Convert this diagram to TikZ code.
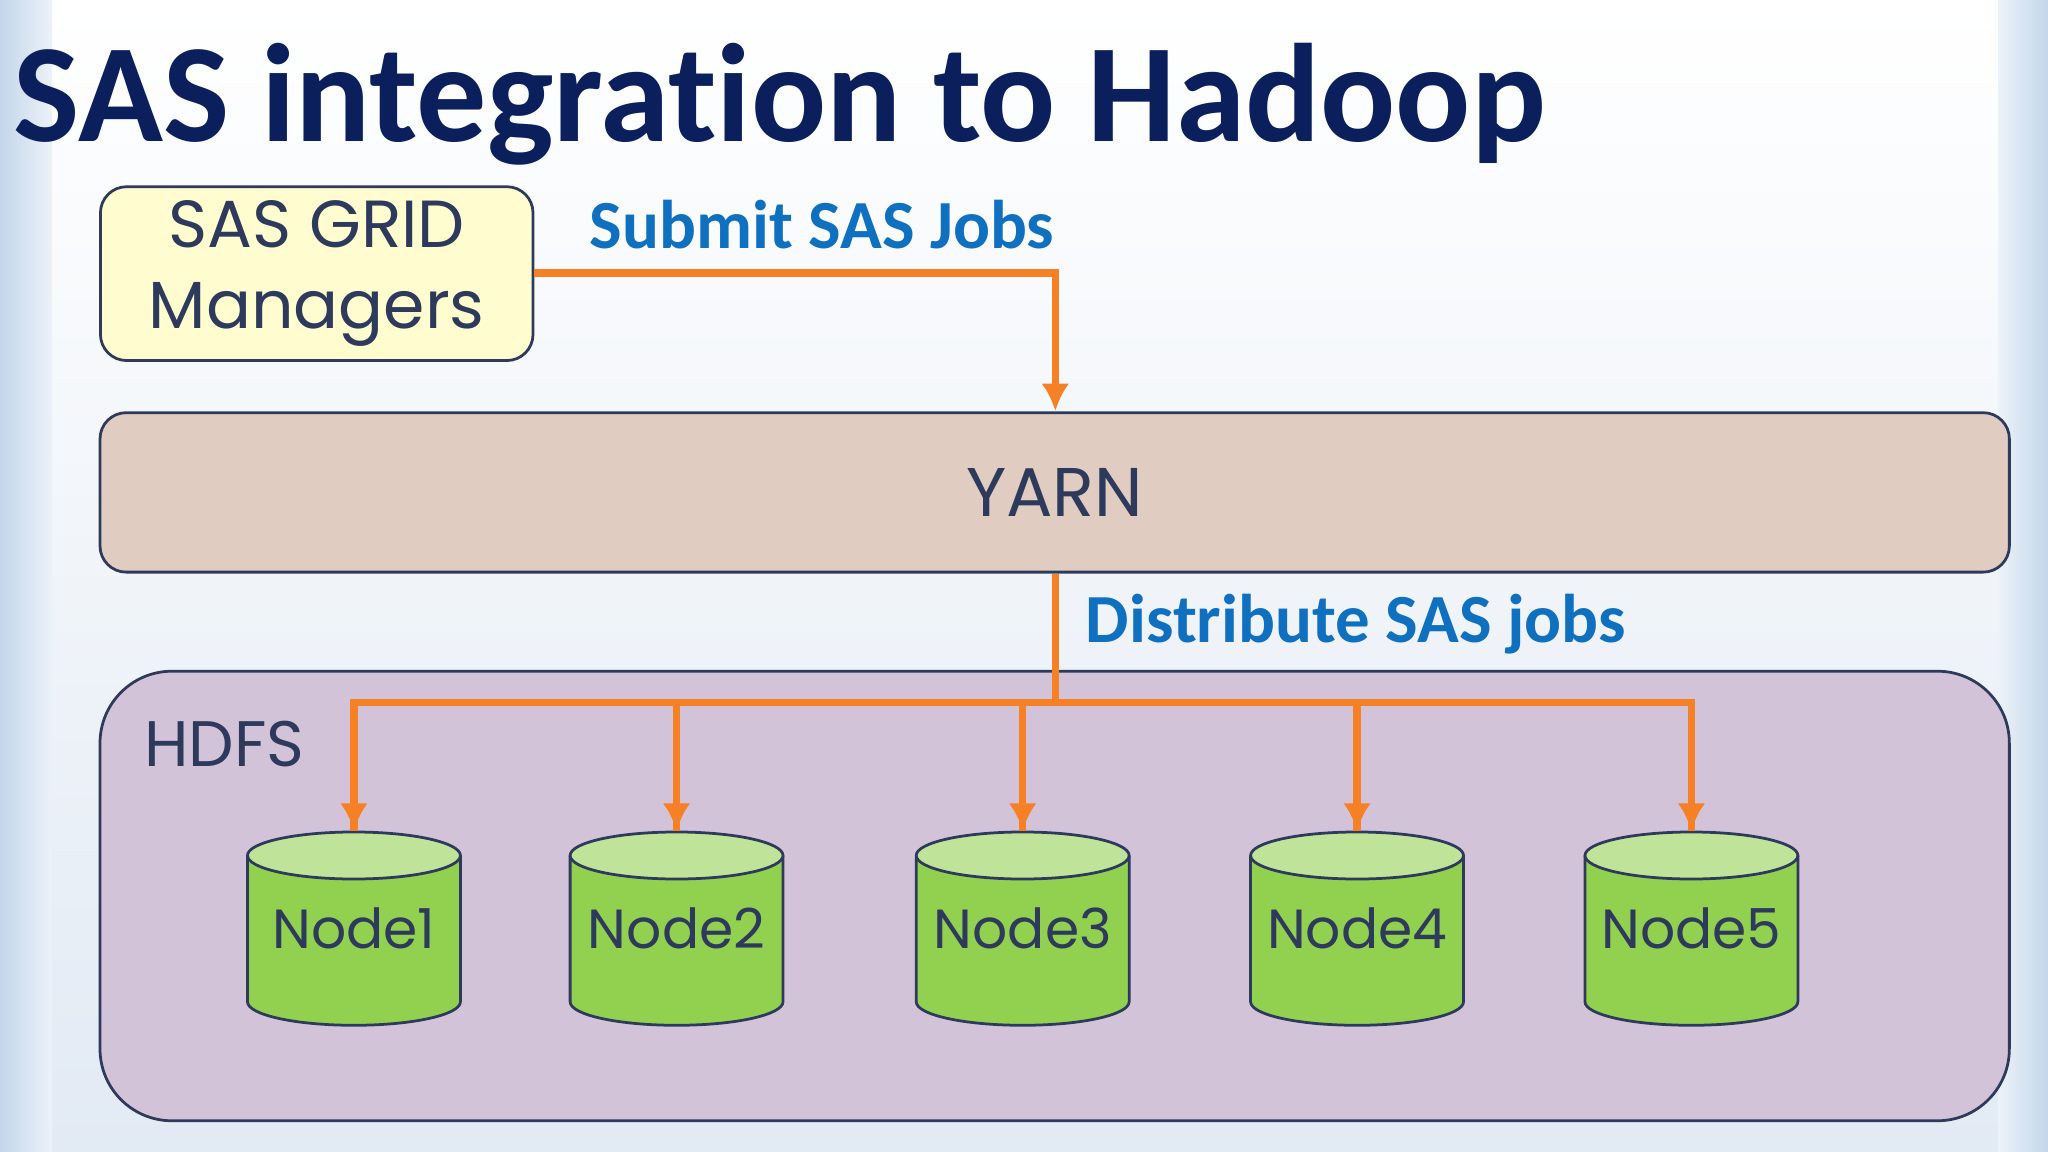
\documentclass[tikz,border=0pt]{standalone}
\usepackage{fontspec}
\setmainfont{Carlito}[Ligatures=NoCommon]
\newfontfamily\gothic{Poppins}
\begin{document}
\begin{tikzpicture}[x=0.01cm,y=-0.01cm,
  arr/.style={draw=orangeA,line width=1.6pt,-{Latex[length=6pt,width=6pt]}},
  lin/.style={draw=orangeA,line width=1.6pt},
  lbl/.style={text=blueL,font=\bfseries\fontsize{15}{16}\selectfont,anchor=west},
  gtext/.style={text=navyT,font=\gothic\fontsize{15}{20}\selectfont}]
\usetikzlibrary{arrows.meta}
\definecolor{orangeA}{HTML}{F58025}
\definecolor{blueL}{HTML}{1070C0}
\definecolor{navyT}{HTML}{2E3A5C}
\definecolor{titleC}{HTML}{0A1F5C}
\useasboundingbox (0,0) rectangle (1568,882);
\fill[top color=white,bottom color={rgb,255:red,226;green,234;blue,244}] (0,0) rectangle (1568,882);
\shade[left color={rgb,255:red,196;green,214;blue,234},right color={rgb,255:red,236;green,242;blue,249}] (0,0) rectangle (40,882);
\shade[right color={rgb,255:red,196;green,214;blue,234},left color={rgb,255:red,236;green,242;blue,249}] (1530,0) rectangle (1568,882);
\node[anchor=base west,inner sep=0,text=titleC,font=\bfseries\fontsize{30.5}{36}\selectfont] (title) at (10,108) {SAS integration to Hadoop};
% HDFS
\node[draw=navyT,fill={rgb,255:red,211;green,195;blue,216},rounded corners=0.55cm,minimum width=14.61cm,minimum height=3.44cm,line width=0.6pt] (hdfs) at (807.5,686) {};
\node[gtext,font=\gothic\fontsize{14}{18}\selectfont,anchor=west] (hdfsl) at (98,570) {HDFS};
% SAS grid
\node[draw=navyT,fill={rgb,255:red,255;green,253;blue,208},rounded corners=0.2cm,minimum width=3.31cm,minimum height=1.33cm,inner sep=0,line width=0.6pt,gtext,align=center,font=\gothic\fontsize{14.5}{18.5}\selectfont] (grid) at (242.5,209.5) {\raisebox{-0.08cm}{SAS GRID}\\\raisebox{-0.05cm}{Managers}};
% YARN
\node[draw=navyT,fill={rgb,255:red,224;green,204;blue,192},rounded corners=0.2cm,minimum width=14.61cm,minimum height=1.22cm,line width=0.6pt,gtext] (yarn) at (807.5,377) {YARN};
\node[lbl] (submit) at (439,172) {Submit SAS Jobs};
\node[lbl] (distr) at (819,478) {Distribute SAS jobs};
\coordinate (bend) at (808,209);
\draw[arr] (grid.east|-bend) -- (bend) -- (yarn.north-|bend);
\coordinate (hub) at (808,538);
\draw[lin] (yarn.south-|hub) -- (hub);
\foreach \i/\x in {1/271,2/518,3/783,4/1039,5/1295}{
  \fill[fill={rgb,255:red,146;green,208;blue,80}]
    (\x-81.5,655) -- (\x-81.5,767) arc[start angle=180,end angle=0,x radius=81.5,y radius=18] -- (\x+81.5,655) -- cycle;
  \draw[navyT,line width=0.6pt] (\x-81.5,655) -- (\x-81.5,767) arc[start angle=180,end angle=0,x radius=81.5,y radius=18] -- (\x+81.5,655);
  \draw[fill={rgb,255:red,192;green,227;blue,154},draw=navyT,line width=0.6pt] (\x,655) ellipse[x radius=81.5,y radius=18];
  \node[minimum width=1.63cm,minimum height=1.48cm,inner sep=0,gtext,font=\gothic\fontsize{12}{16}\selectfont] (n\i) at (\x,711) {\raisebox{-0.31cm}{Node\i}};
  \draw[lin] (hub) -| (n\i.north);
  \draw[arr] (n\i.north|-hub) -- (n\i.north);
}
\end{tikzpicture}
\end{document}
